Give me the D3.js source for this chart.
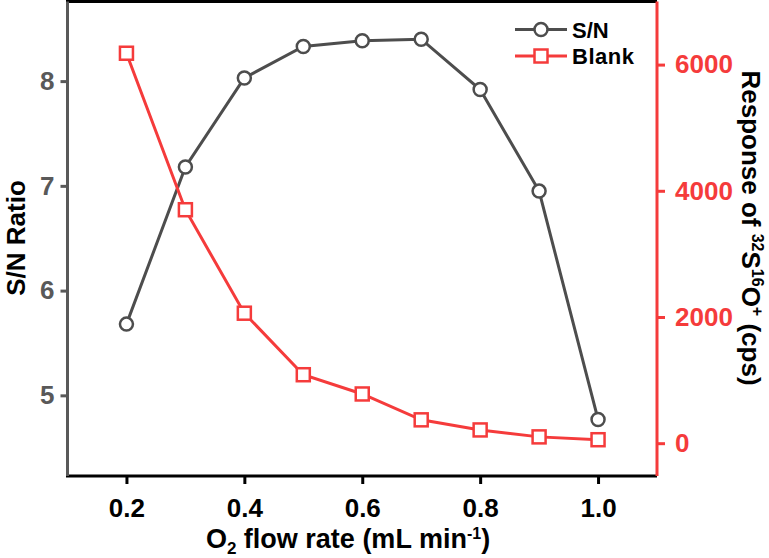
<!DOCTYPE html>
<html>
<head>
<meta charset="utf-8">
<script src="https://cdn.jsdelivr.net/npm/d3@7"></script>
<style>
  body { margin: 0; background: #fff; }
  text { font-family: "Liberation Sans", Arial, sans-serif; font-weight: bold; }
</style>
</head>
<body>
<script>
// data
var flowRate = [0.2, 0.3, 0.4, 0.5, 0.6, 0.7, 0.8, 0.9, 1.0];
var snRatio  = [5.68, 7.18, 8.03, 8.33, 8.385, 8.40, 7.92, 6.95, 4.77];
var blankCps = [6180, 3700, 2060, 1085, 780, 370, 210, 100, 55];

var xTicks = [0.2, 0.4, 0.6, 0.8, 1.0];
var xMinor = [0.3, 0.5, 0.7, 0.9];
var leftTicks = [5, 6, 7, 8];
var leftMinor = [4.5, 5.5, 6.5, 7.5, 8.5];
var rightTicks = [0, 2000, 4000, 6000];
var rightMinor = [1000, 3000, 5000];

var grey = "#4d4d4d", red = "#f53b3b";

var width = 769, height = 558;
var x0 = 67.5, x1 = 657, yTop = 1.5, yBot = 476;

var svg = d3.select("body").append("svg")
    .attr("width", width)
    .attr("height", height);

var x = d3.scaleLinear().domain([0.1, 1.1]).range([x0, x1]);
var yL = d3.scaleLinear().domain([4.23, 8.76]).range([yBot, yTop]);
var yR = d3.scaleLinear().domain([-520, 7000]).range([yBot, yTop]);

function styleAxis(g, col) {
  g.selectAll("line").attr("stroke", col).attr("stroke-width", 3);
  g.selectAll("path").attr("stroke", col).attr("stroke-width", 3);
  g.selectAll("text").attr("fill", col).style("font-size", "26px");
}

// top frame
svg.append("line")
    .attr("x1", x0 - 1.5).attr("x2", x1)
    .attr("y1", yTop).attr("y2", yTop)
    .attr("stroke", "#000").attr("stroke-width", 3);

// bottom axis
var gx = svg.append("g").attr("transform", "translate(0," + yBot + ")");
gx.call(d3.axisBottom(x).tickValues(xMinor).tickSize(4).tickSizeOuter(0).tickFormat(""));
gx.call(d3.axisBottom(x).tickValues(xTicks).tickSize(8).tickSizeOuter(0).tickFormat(d3.format(".1f")));
styleAxis(gx, "#000");
gx.selectAll("text").attr("y", 41).attr("dy", null);
gx.select(".domain").attr("d", "M" + (x0 - 1.5) + ",0H" + x1);

// left axis
var gl = svg.append("g").attr("transform", "translate(" + x0 + ",0)");
gl.call(d3.axisLeft(yL).tickValues(leftMinor).tickSize(4).tickSizeOuter(0).tickFormat(""));
gl.call(d3.axisLeft(yL).tickValues(leftTicks).tickSize(7).tickSizeOuter(0).tickPadding(6).tickFormat(d3.format("d")));
styleAxis(gl, "#595959");
gl.selectAll(".domain").attr("d", "M0," + yTop + "V" + yBot);

// right axis
var gr = svg.append("g").attr("transform", "translate(" + x1 + ",0)");
gr.call(d3.axisRight(yR).tickValues(rightMinor).tickSize(4).tickSizeOuter(0).tickFormat(""));
gr.call(d3.axisRight(yR).tickValues(rightTicks).tickSize(8).tickSizeOuter(0).tickPadding(10).tickFormat(d3.format("d")));
styleAxis(gr, red);
gr.selectAll(".domain").attr("d", "M0," + yTop + "V" + yBot);

// series
var snLine = d3.line().x(function(d, i) { return x(flowRate[i]); }).y(function(d) { return yL(d); });
var blLine = d3.line().x(function(d, i) { return x(flowRate[i]); }).y(function(d) { return yR(d); });

svg.append("path").datum(snRatio)
    .attr("d", snLine).attr("fill", "none")
    .attr("stroke", grey).attr("stroke-width", 3);
svg.selectAll(".snpt").data(snRatio).enter().append("circle")
    .attr("class", "snpt")
    .attr("cx", function(d, i) { return x(flowRate[i]); })
    .attr("cy", function(d) { return yL(d); })
    .attr("r", 6.5)
    .attr("fill", "#fff").attr("stroke", grey).attr("stroke-width", 2.5);

svg.append("path").datum(blankCps)
    .attr("d", blLine).attr("fill", "none")
    .attr("stroke", red).attr("stroke-width", 3);
svg.selectAll(".blpt").data(blankCps).enter().append("rect")
    .attr("class", "blpt")
    .attr("x", function(d, i) { return x(flowRate[i]) - 6.5; })
    .attr("y", function(d) { return yR(d) - 6.5; })
    .attr("width", 13).attr("height", 13)
    .attr("fill", "#fff").attr("stroke", red).attr("stroke-width", 2.5);

// legend
var leg = svg.append("g");
leg.append("line").attr("x1", 515).attr("x2", 567).attr("y1", 29.5).attr("y2", 29.5)
    .attr("stroke", grey).attr("stroke-width", 3);
leg.append("circle").attr("cx", 541).attr("cy", 29.5).attr("r", 6.5)
    .attr("fill", "#fff").attr("stroke", grey).attr("stroke-width", 2.5);
leg.append("text").attr("x", 572).attr("y", 37.5).style("font-size", "22px").text("S/N");
leg.append("line").attr("x1", 515).attr("x2", 567).attr("y1", 56).attr("y2", 56)
    .attr("stroke", red).attr("stroke-width", 3);
leg.append("rect").attr("x", 534.5).attr("y", 49.5).attr("width", 13).attr("height", 13)
    .attr("fill", "#fff").attr("stroke", red).attr("stroke-width", 2.5);
leg.append("text").attr("x", 572).attr("y", 64).style("font-size", "22px")
    .style("letter-spacing", "0.5px").text("Blank");

// axis titles
svg.append("text")
    .attr("transform", "translate(25,238) rotate(-90)")
    .attr("text-anchor", "middle").style("font-size", "26px")
    .text("S/N Ratio");

var rt = svg.append("text")
    .attr("transform", "translate(742,228) rotate(90)")
    .attr("text-anchor", "middle").style("font-size", "26px");
rt.append("tspan").text("Response of ");
rt.append("tspan").attr("dy", -10).style("font-size", "16px").text("32");
rt.append("tspan").attr("dy", 10).text("S");
rt.append("tspan").attr("dy", -10).style("font-size", "16px").text("16");
rt.append("tspan").attr("dy", 10).text("O");
rt.append("tspan").attr("dy", -10).style("font-size", "16px").text("+");
rt.append("tspan").attr("dy", 10).text(" (cps)");

var xt = svg.append("text")
    .attr("x", 348).attr("y", 548)
    .attr("text-anchor", "middle").style("font-size", "27px");
xt.append("tspan").text("O");
xt.append("tspan").attr("dy", 6).style("font-size", "17px").text("2");
xt.append("tspan").attr("dy", -6).text(" flow rate (mL min");
xt.append("tspan").attr("dy", -9).style("font-size", "16px").text("-1");
xt.append("tspan").attr("dy", 9).text(")");
</script>
</body>
</html>
